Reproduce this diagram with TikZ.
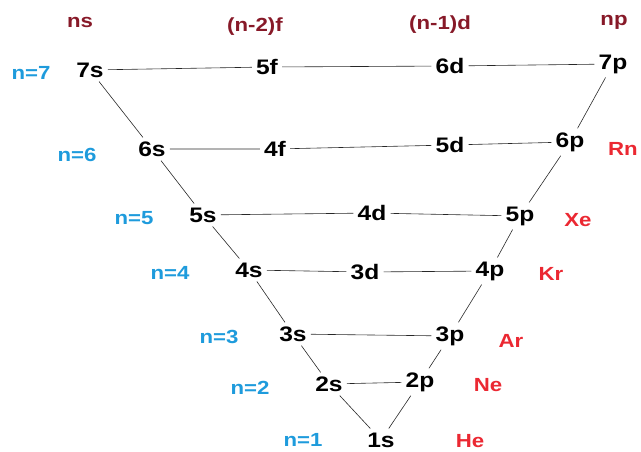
\documentclass[tikz,border=0pt]{standalone}
\usepackage{fontspec}
\setmainfont{Liberation Sans}[FakeStretch=1.17]
\definecolor{hdred}{RGB}{135, 25, 40}
\definecolor{nblue}{RGB}{30, 155, 220}
\definecolor{gasred}{RGB}{235, 40, 50}
\definecolor{lvline}{RGB}{40, 40, 40}
\usetikzlibrary{positioning}

\begin{document}
\begin{tikzpicture}[x=1pt, y=-1pt,
    orb/.style={font=\fontsize{21}{24}\selectfont\bfseries, text=black, inner sep=4pt},
    hdr/.style={font=\fontsize{19}{23}\selectfont\bfseries, text=hdred},
    nlab/.style={font=\fontsize{19}{23}\selectfont\bfseries, text=nblue},
    gas/.style={font=\fontsize{19}{23}\selectfont\bfseries, text=gasred},
    lvl/.style={draw=lvline, line width=0.6pt}]
  \useasboundingbox (0,0) rectangle (641,451);
  % column headers
  \node[hdr] (hs) at (80,22) {ns};
  \node[hdr] (hf) at (255,27) {(n-2)f};
  \node[hdr] (hd) at (440,25) {(n-1)d};
  \node[hdr] (hp) at (614,22) {np};
  % shell labels
  \node[nlab] (n7) at (31,73) {n=7};
  \node[nlab] (n6) at (77,155) {n=6};
  \node[nlab] (n5) at (134,218) {n=5};
  \node[nlab] (n4) at (170,273) {n=4};
  \node[nlab] (n3) at (219,337) {n=3};
  \node[nlab] (n2) at (250,388) {n=2};
  \node[nlab] (n1) at (303,440) {n=1};
  % orbitals
  \node[orb] (s7) at (90,70) {7s};
  \node[orb] (f5) at (267,67) {5f};
  \node[orb] (d6) at (450,66) {6d};
  \node[orb] (p7) at (613,64) {7p};
  \node[orb] (s6) at (152,149) {6s};
  \node[orb] (f4) at (275,149) {4f};
  \node[orb] (d5) at (450,145) {5d};
  \node[orb] (p6) at (570,142) {6p};
  \node[orb] (s5) at (203,215) {5s};
  \node[orb] (d4) at (372,213) {4d};
  \node[orb] (p5) at (520,216) {5p};
  \node[orb] (s4) at (249,270) {4s};
  \node[orb] (d3) at (365,272) {3d};
  \node[orb] (p4) at (490,271) {4p};
  \node[orb] (s3) at (293,334) {3s};
  \node[orb] (p3) at (450,336) {3p};
  \node[orb] (s2) at (329,384) {2s};
  \node[orb] (p2) at (420,382) {2p};
  \node[orb] (s1) at (381,440) {1s};
  % noble gases
  \node[gas, anchor=east, inner sep=1pt] (rn) at (639,149) {Rn};
  \node[gas] (xe) at (578,220) {Xe};
  \node[gas] (kr) at (551,274) {Kr};
  \node[gas] (ar) at (511,341) {Ar};
  \node[gas] (ne) at (488,385) {Ne};
  \node[gas] (he) at (470,441) {He};
  % levels
  \draw[lvl] (s7) -- (f5) -- (d6) -- (p7);
  \draw[lvl] (s6) -- (f4) -- (d5) -- (p6);
  \draw[lvl] (s5) -- (d4) -- (p5);
  \draw[lvl] (s4) -- (d3) -- (p4);
  \draw[lvl] (s3) -- (p3);
  \draw[lvl] (s2) -- (p2);
  % sides of the funnel
  \draw[lvl] (s7) -- (s6) -- (s5) -- (s4) -- (s3) -- (s2) -- (s1);
  \draw[lvl] (p7) -- (p6) -- (p5) -- (p4) -- (p3) -- (p2) -- (s1);
\end{tikzpicture}
\end{document}
